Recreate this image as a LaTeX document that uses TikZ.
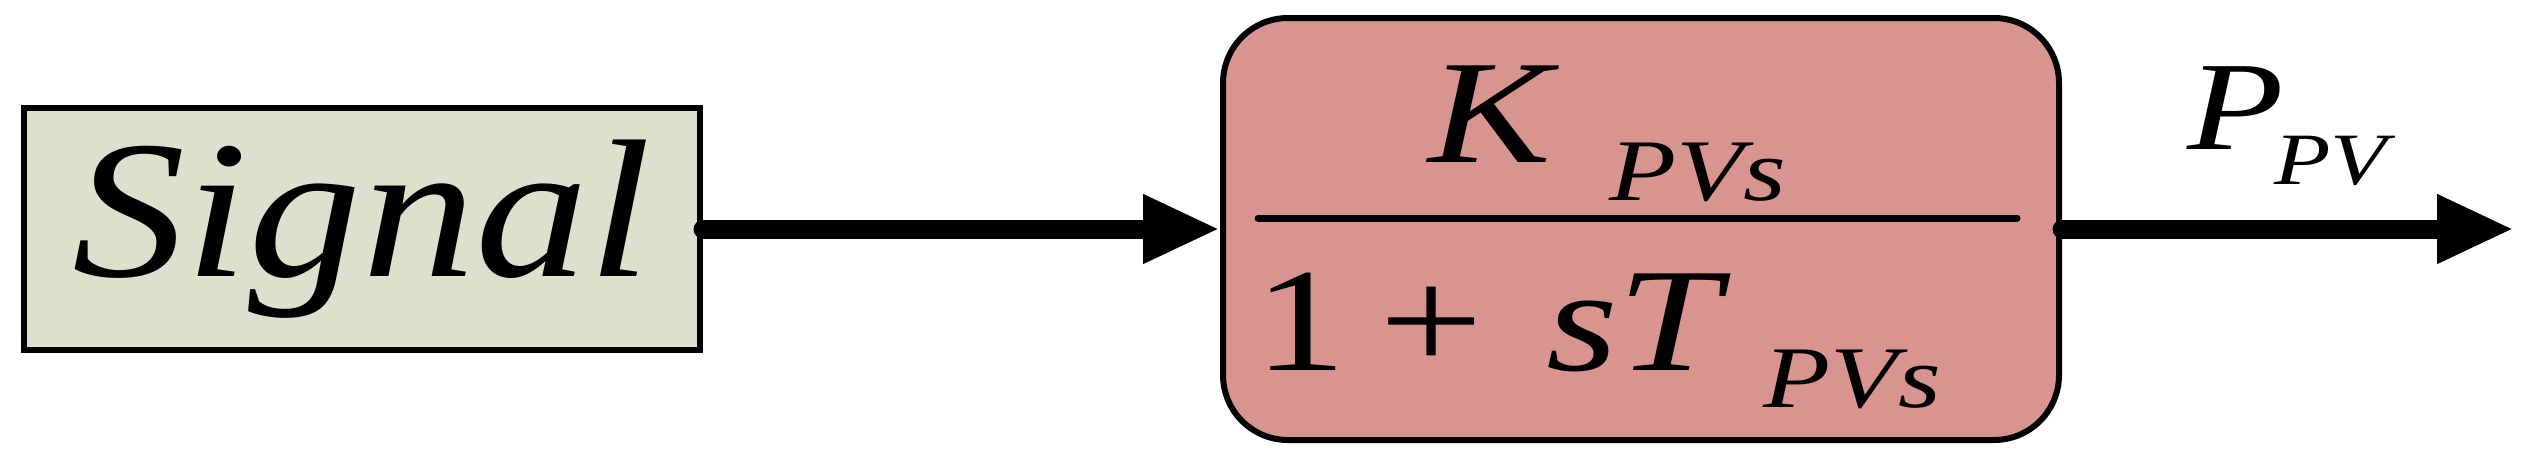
\documentclass[tikz,border=0pt]{standalone}
\usepackage{fontspec}
\setmainfont{Liberation Serif}
\usepackage{graphicx}
\usetikzlibrary{arrows.meta,positioning,calc}
\definecolor{sigFill}{HTML}{DCE0CC}
\definecolor{tfFill}{HTML}{D8948F}
\newcommand{\wide}[1]{\scalebox{1.25}[1]{#1}}
\newcommand{\subsz}{\fontsize{25}{28}\selectfont}

\begin{document}
\begin{tikzpicture}[
  node distance=5.17cm,
  block/.style={draw=black, line width=0.06cm, inner sep=0pt},
  sigbox/.style={block, fill=sigFill, minimum width=6.76cm, minimum height=2.42cm,
                 font=\fontsize{56}{60}\selectfont\itshape},
  tfbox/.style={block, fill=tfFill, rounded corners=0.65cm,
                minimum width=8.36cm, minimum height=4.22cm},
  flow/.style={-{Triangle[length=0.77cm,width=0.64cm]}, line width=0.19cm, line cap=round},
  big/.style={anchor=base west, inner sep=0pt, font=\fontsize{42}{46}\selectfont},
  lbl/.style={anchor=base west, inner sep=0pt, font=\fontsize{36}{40}\selectfont}
]
  \useasboundingbox (0,0) rectangle (25.21,4.58);
  \node[sigbox] (src) at (3.62,2.29) {\scalebox{1.15}[1]{Signal}};
  \node[tfbox, right=of src] (tf) {};
  \coordinate[right=4.52cm of tf.east] (out);
  % transfer function
  \draw[line width=0.07cm, line cap=round] ($(tf.west)+(0.38,0.11)$) -- ($(tf.east)+(-0.45,0.11)$);
  \node[big] (num) at ($(tf.west)+(2.08,0.67)$)
    {\wide{\textit{K}\hspace{0.4cm}\raisebox{-0.38cm}{\subsz\textit{PVs}}}};
  \node[big] (den) at ($(tf.west)+(0.34,-1.41)$)
    {\wide{1\hspace{0.26cm}+\hspace{0.5cm}\textit{sT}\hspace{0.26cm}\raisebox{-0.37cm}{\subsz\textit{PVs}}}};
  \node[lbl] (ppv) at ($(tf.east)+(1.25,0.80)$)
    {\wide{\textit{P}\hspace{-0.08cm}\raisebox{-0.35cm}{\fontsize{21}{25}\selectfont\textit{PV}}}};
  \draw[flow] (src) -- (tf);
  \draw[flow] (tf) -- (out);
\end{tikzpicture}
\end{document}
